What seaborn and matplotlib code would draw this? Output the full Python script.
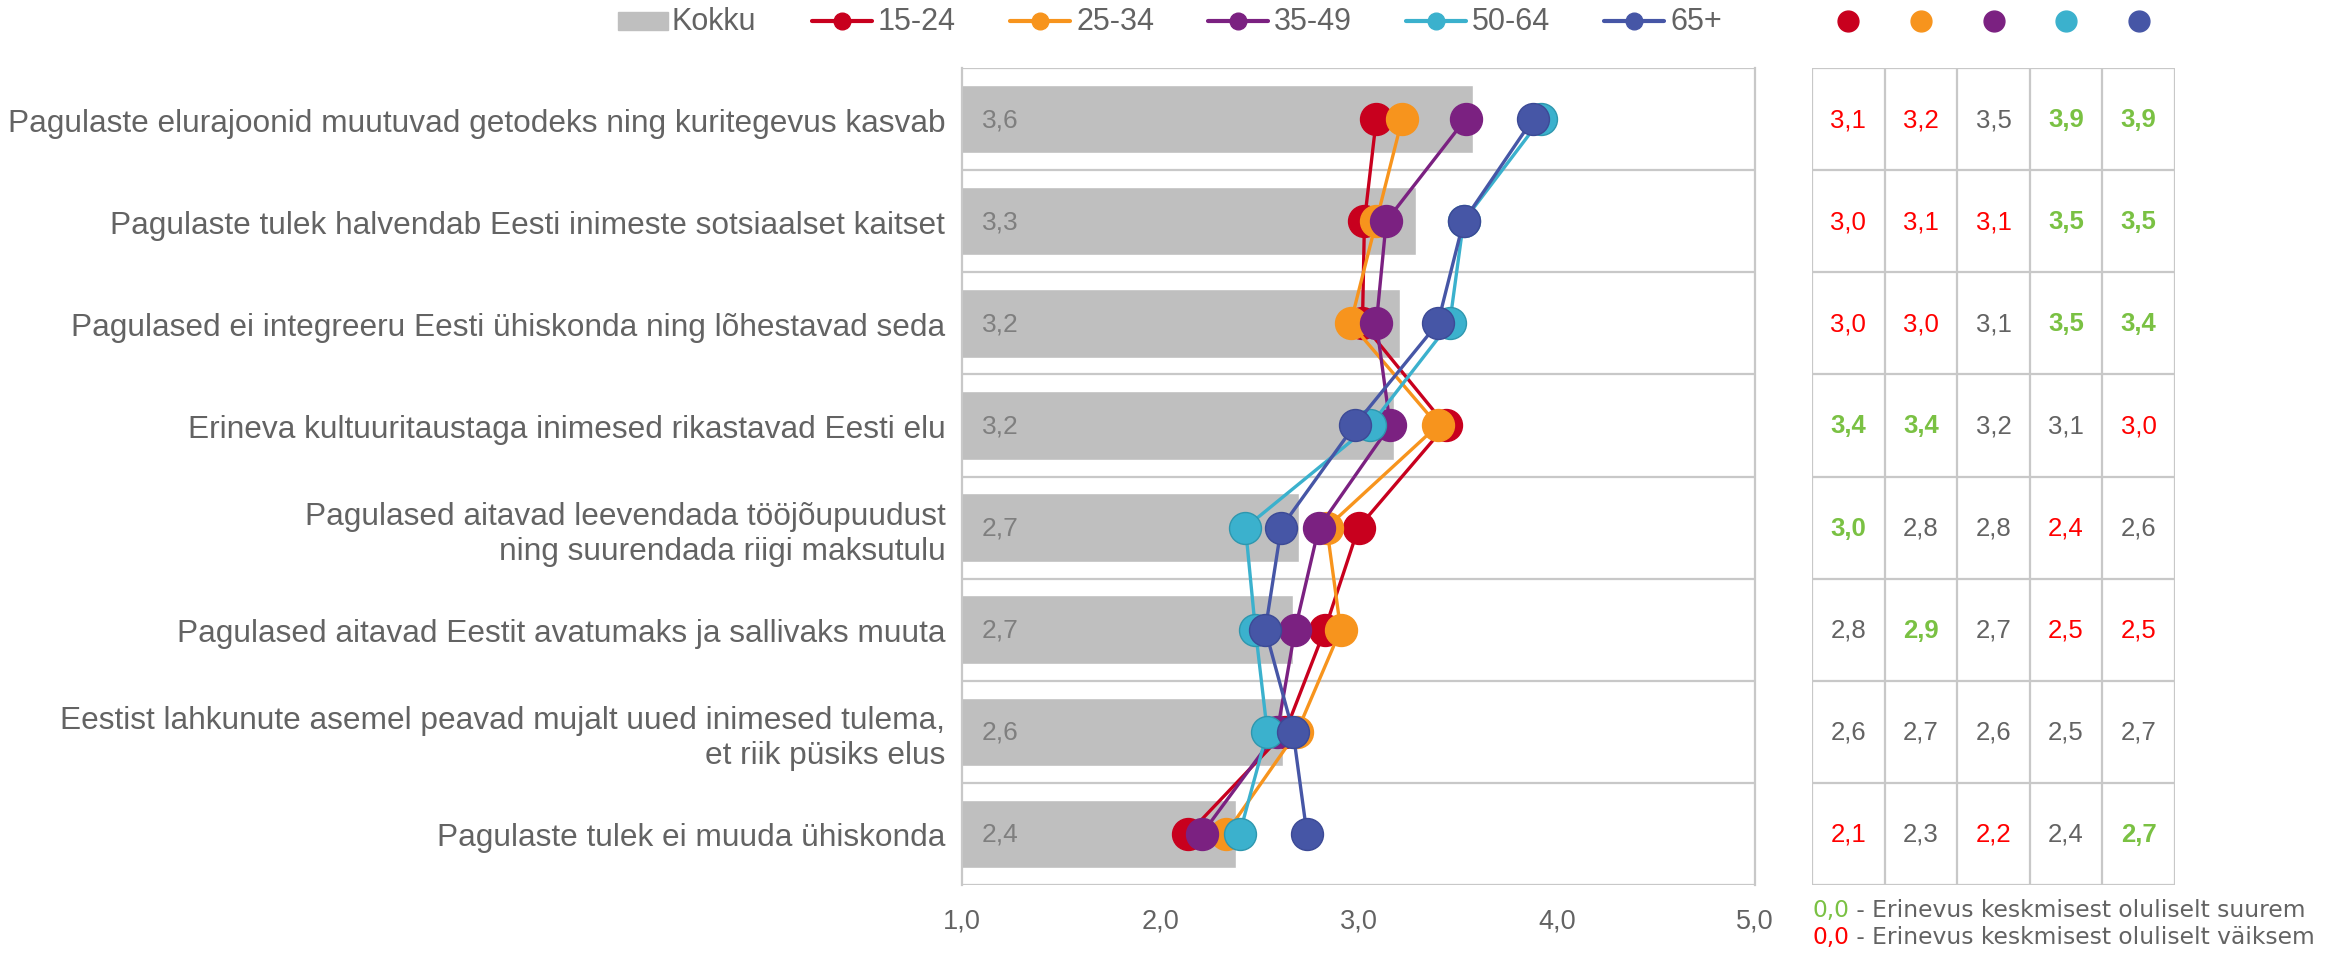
import numpy as np
import pandas as pd
import matplotlib
matplotlib.use("Agg")
import matplotlib.pyplot as plt
import seaborn as sns
from matplotlib.lines import Line2D
from matplotlib.patches import Rectangle
from matplotlib.transforms import blended_transform_factory

sns.set_style("white")
plt.rcParams["font.family"] = ["Liberation Sans", "DejaVu Sans"]

# statements (top to bottom)
categories = [
    "Pagulaste elurajoonid muutuvad getodeks ning kuritegevus kasvab",
    "Pagulaste tulek halvendab Eesti inimeste sotsiaalset kaitset",
    "Pagulased ei integreeru Eesti ühiskonda ning lõhestavad seda",
    "Erineva kultuuritaustaga inimesed rikastavad Eesti elu",
    "Pagulased aitavad leevendada tööjõupuudust\nning suurendada riigi maksutulu",
    "Pagulased aitavad Eestit avatumaks ja sallivaks muuta",
    "Eestist lahkunute asemel peavad mujalt uued inimesed tulema,\net riik püsiks elus",
    "Pagulaste tulek ei muuda ühiskonda",
]

# overall mean (bars)
kokku = [3.58, 3.29, 3.21, 3.18, 2.70, 2.67, 2.62, 2.38]

# age group means (lines)
groups = ["15-24", "25-34", "35-49", "50-64", "65+"]
g15_24 = [3.09, 3.03, 3.02, 3.44, 3.00, 2.83, 2.63, 2.14]
g25_34 = [3.22, 3.09, 2.96, 3.40, 2.84, 2.91, 2.69, 2.33]
g35_49 = [3.54, 3.14, 3.09, 3.16, 2.80, 2.68, 2.59, 2.21]
g50_64 = [3.92, 3.53, 3.46, 3.06, 2.43, 2.48, 2.54, 2.40]
g65 = [3.88, 3.53, 3.40, 2.98, 2.61, 2.53, 2.67, 2.74]

# table values as printed
t15_24 = [3.1, 3.0, 3.0, 3.4, 3.0, 2.8, 2.6, 2.1]
t25_34 = [3.2, 3.1, 3.0, 3.4, 2.8, 2.9, 2.7, 2.3]
t35_49 = [3.5, 3.1, 3.1, 3.2, 2.8, 2.7, 2.6, 2.2]
t50_64 = [3.9, 3.5, 3.5, 3.1, 2.4, 2.5, 2.5, 2.4]
t65 = [3.9, 3.5, 3.4, 3.0, 2.6, 2.5, 2.7, 2.7]

# significance: g = larger than mean, r = smaller
s15_24 = ["r", "r", "r", "g", "g", "", "", "r"]
s25_34 = ["r", "r", "r", "g", "", "g", "", ""]
s35_49 = ["", "r", "", "", "", "", "", "r"]
s50_64 = ["g", "g", "g", "", "r", "r", "", ""]
s65 = ["g", "g", "g", "r", "", "r", "", "g"]

colors = ["#C8001E", "#F7941D", "#7B2181", "#3BB1CD", "#4656A6"]
edges = ["#C8001E", "#F7941D", "#7B2181", "#2E97AE", "#3C4A96"]
bar_color = "#BFBFBF"
grid_color = "#C8C8C8"
text_gray = "#636363"
sig_colors = {"g": "#7AC143", "r": "#FF0000", "": "#636363"}

line_vals = [g15_24, g25_34, g35_49, g50_64, g65]
table_vals = [t15_24, t25_34, t35_49, t50_64, t65]
table_sig = [s15_24, s25_34, s35_49, s50_64, s65]

fmt = lambda v: f"{v:.1f}".replace(".", ",")

W, H = 2336, 954
top, bottom = 69, 886
fig = plt.figure(figsize=(W / 100, H / 100), dpi=100)
ax = fig.add_axes([962 / W, 1 - bottom / H, (1755 - 962) / W, (bottom - top) / H])
tax = fig.add_axes([1812 / W, 1 - bottom / H, (2175 - 1812) / W, (bottom - top) / H])

# bars
df_bar = pd.DataFrame({"statement": categories, "value": kokku})
sns.barplot(data=df_bar, x="value", y="statement", color=bar_color,
            saturation=1, width=0.67, orient="h", ax=ax)

pos = np.arange(len(categories))
for p, v in zip(pos, kokku):
    ax.text(1.1, p, fmt(v), va="center", ha="left", fontsize=19,
            color="#7F7F7F")

# lines per age group
for vals, c, ec in zip(line_vals, colors, edges):
    sns.lineplot(x=vals, y=pos, orient="y", sort=False, color=c, lw=2.4,
                 marker="o", markersize=23, markeredgecolor=ec,
                 markeredgewidth=1, ax=ax)

ax.set_xlim(1, 5)
ax.set_ylim(7.5, -0.5)
ax.set_xticks([1, 2, 3, 4, 5])
ax.set_xticklabels([fmt(v) for v in [1, 2, 3, 4, 5]], fontsize=19.5,
                   color=text_gray)
ax.set_yticks(pos)
ax.set_yticklabels(categories, fontsize=22.8, color=text_gray)
ax.tick_params(axis="both", length=0)
ax.tick_params(axis="y", pad=12)
ax.tick_params(axis="x", pad=16)
ax.set_xlabel("")
ax.set_ylabel("")
for y in np.arange(-0.5, 8):
    ax.axhline(y, color=grid_color, lw=1.6, zorder=0.5)
ax.spines["bottom"].set_visible(False)
ax.spines["top"].set_visible(False)
for side in ["left", "right"]:
    ax.spines[side].set_color(grid_color)
    ax.spines[side].set_linewidth(1.6)

# table
tax.set_xlim(0, 5)
tax.set_ylim(7.5, -0.5)
tax.axis("off")
for y in np.arange(-0.5, 8):
    tax.axhline(y, color=grid_color, lw=1.6)
for x in range(6):
    tax.axvline(x, color=grid_color, lw=1.6)
for j in range(5):
    for i in range(len(categories)):
        s = table_sig[j][i]
        tax.text(j + 0.5, i, fmt(table_vals[j][i]), ha="center", va="center",
                 fontsize=18.5, color=sig_colors[s],
                 fontweight="bold" if s == "g" else "normal")

# dots above table columns
trans = blended_transform_factory(tax.transData, fig.transFigure)
for j, c in enumerate(colors):
    tax.plot(j + 0.5, 0.977, "o", color=c, markersize=15, transform=trans,
             clip_on=False)

# legend row at the top
ly = 1 - 22 / H
fig.add_artist(Rectangle((618 / W, ly - 9 / H), 50 / W, 18 / H,
                         color=bar_color, transform=fig.transFigure))
fig.text(671 / W, ly, "Kokku", fontsize=22, color=text_gray, va="center")
for k, (g, c) in enumerate(zip(groups, colors)):
    x0 = (812 + 198 * k) / W
    fig.add_artist(Line2D([x0, x0 + 60 / W], [ly, ly], color=c, lw=3,
                          transform=fig.transFigure))
    fig.add_artist(Line2D([x0 + 30 / W], [ly], color=c, marker="o",
                          markersize=12, transform=fig.transFigure))
    fig.text(x0 + 66 / W, ly, g, fontsize=22, color=text_gray, va="center")

# notes below table
note_font = dict(fontsize=16.8, family="DejaVu Sans", va="center")
t1 = fig.text(1812 / W, 1 - 911 / H, "0,0", color=sig_colors["g"], **note_font)
ax.annotate(" - Erinevus keskmisest oluliselt suurem", xy=(1, 0.5),
            xycoords=t1, color=text_gray, **note_font)
t2 = fig.text(1812 / W, 1 - 938 / H, "0,0", color=sig_colors["r"], **note_font)
ax.annotate(" - Erinevus keskmisest oluliselt väiksem", xy=(1, 0.5),
            xycoords=t2, color=text_gray, **note_font)

fig.savefig("out.png", dpi=100)
